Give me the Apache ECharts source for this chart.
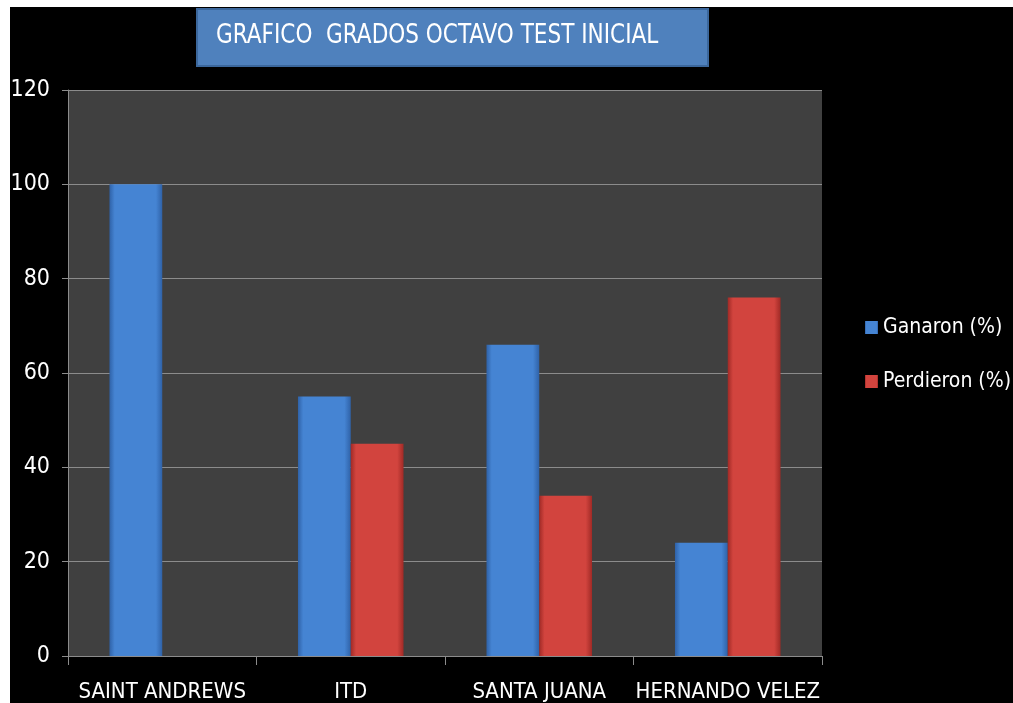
<!DOCTYPE html>
<html><head><meta charset="utf-8">
<script src="https://cdn.jsdelivr.net/npm/echarts@6/dist/echarts.min.js"></script>
<style>html,body{margin:0;padding:0;background:#fff;}#c{width:1013px;height:703px;}</style>
</head><body><div id="c"></div>
<script>
const categories = ['SAINT ANDREWS', 'ITD', 'SANTA JUANA', 'HERNANDO VELEZ'];
const ganaron = [100, 55, 66, 24];
const perdieron = [0, 45, 34, 76];
const yTicks = [0, 20, 40, 60, 80, 100, 120];
const titleText = 'GRAFICO  GRADOS OCTAVO TEST INICIAL';
const seriesNames = ['Ganaron (%)', 'Perdieron (%)'];

const FONT = '"DejaVu Sans Condensed", Roboto, sans-serif';
const chart = echarts.init(document.getElementById('c'), null, {renderer: 'canvas'});

function grad(mid, dark) {
  return new echarts.graphic.LinearGradient(0, 0, 1, 0, [
    {offset: 0, color: dark}, {offset: 0.1, color: mid}, {offset: 0.88, color: mid}, {offset: 1, color: dark}
  ]);
}

chart.setOption({
  backgroundColor: '#fff',
  animation: false,
  graphic: [
    {type: 'rect', shape: {x: 10, y: 7, width: 1003, height: 696}, style: {fill: '#000'}, z: -10},
    {type: 'rect', shape: {x: 197, y: 9, width: 511, height: 57}, style: {fill: '#4f81bd', stroke: '#3b679c', lineWidth: 2}, z: 10},
    {type: 'text', x: 216, y: 40, scaleY: 1.1, originY: 40, style: {text: titleText, fill: '#fff', font: '24px ' + FONT, verticalAlign: 'middle'}, z: 11}
  ],
  legend: {
    orient: 'vertical', left: 860, top: 312, itemGap: 33, itemWidth: 13, itemHeight: 13,
    icon: 'rect',
    textStyle: {color: '#fff', fontSize: 21, fontFamily: FONT},
    data: seriesNames
  },
  grid: {left: 68, right: 191, top: 90, bottom: 47, backgroundColor: '#404040', show: true, borderWidth: 0},
  xAxis: {
    type: 'category', data: categories,
    axisLine: {lineStyle: {color: '#8c8c8c', width: 1}},
    axisTick: {show: true, length: 9, lineStyle: {color: '#8c8c8c'}},
    axisLabel: {color: '#fff', fontSize: 22, fontFamily: FONT, margin: 25, interval: 0}
  },
  yAxis: {
    type: 'value', min: 0, max: 120, interval: 20,
    axisLine: {show: true, lineStyle: {color: '#8c8c8c'}},
    axisTick: {show: true, length: 6, lineStyle: {color: '#8c8c8c'}},
    axisLabel: {color: '#fff', fontSize: 23, fontFamily: FONT, margin: 18,
      formatter: v => yTicks.includes(v) ? String(v) : ''},
    splitLine: {lineStyle: {color: '#8c8c8c', width: 1}}
  },
  series: [
    {name: seriesNames[0], type: 'bar', data: ganaron, barGap: '0%', barCategoryGap: '44%',
     itemStyle: {color: grad('#4584d3', '#2f62a8')}},
    {name: seriesNames[1], type: 'bar', data: perdieron,
     itemStyle: {color: grad('#d2443e', '#a02a26')}}
  ]
});
</script></body></html>
